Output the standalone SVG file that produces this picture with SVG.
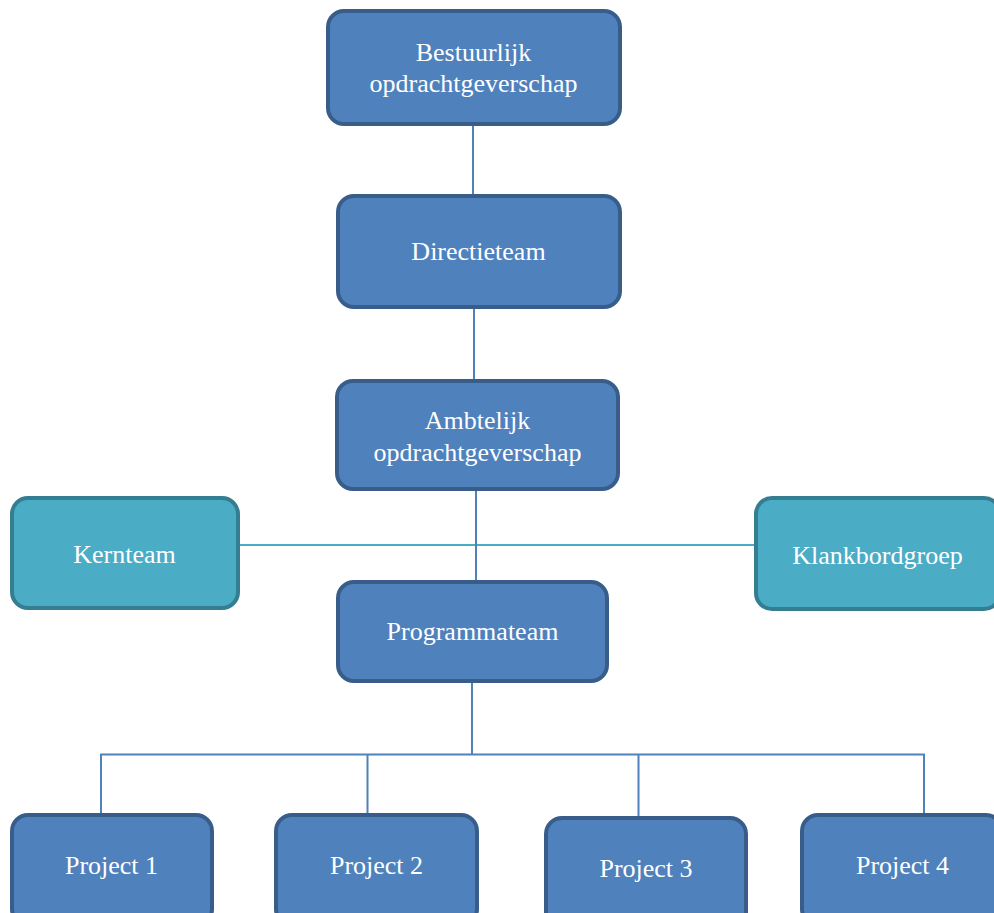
<svg xmlns="http://www.w3.org/2000/svg" width="994" height="913" viewBox="0 0 994 913">
<style>
.b{fill:#4f81bd;stroke:#385d8a;stroke-width:4}
.t{fill:#4bacc6;stroke:#357d91;stroke-width:4}
text{font-family:"Liberation Serif","Times New Roman",serif;font-size:26px;fill:#ffffff;text-anchor:middle}
.c{stroke:#4f81bd;stroke-width:2;fill:none}
.ct{stroke:#4bacc6;stroke-width:2;fill:none}
</style>
<rect width="994" height="913" fill="#ffffff"/>
<g id="connectors">
<line class="c" x1="473" y1="124" x2="473" y2="196"/>
<line class="c" x1="474" y1="307" x2="474" y2="381"/>
<line class="ct" x1="238" y1="545" x2="756" y2="545"/>
<line class="c" x1="476" y1="490" x2="476" y2="582"/>
<line class="c" x1="472" y1="683" x2="472" y2="754"/>
<polyline class="c" points="101,814 101,754.5 924,754.5 924,813"/>
<line class="c" x1="367.5" y1="754" x2="367.5" y2="814"/>
<line class="c" x1="638.5" y1="754" x2="638.5" y2="817"/>
</g>
<g id="bestuurlijk"><rect class="b" x="328" y="11" width="292" height="113" rx="16"/><text x="473.5" y="61">Bestuurlijk</text><text x="473.5" y="92">opdrachtgeverschap</text></g>
<g id="directieteam"><rect class="b" x="338" y="196" width="282" height="111" rx="16"/><text x="478.5" y="260">Directieteam</text></g>
<g id="ambtelijk"><rect class="b" x="337" y="381" width="281" height="108" rx="16"/><text x="477.5" y="429">Ambtelijk</text><text x="477.5" y="461">opdrachtgeverschap</text></g>
<g id="kernteam"><rect class="t" x="12" y="498" width="226" height="110" rx="16"/><text x="124.5" y="563">Kernteam</text></g>
<g id="klankbordgroep"><rect class="t" x="756" y="498" width="244" height="111" rx="16"/><text x="877.5" y="564">Klankbordgroep</text></g>
<g id="programmateam"><rect class="b" x="338" y="582" width="269" height="99" rx="16"/><text x="472.5" y="640">Programmateam</text></g>
<g id="project1"><rect class="b" x="12" y="815" width="200" height="110" rx="16"/><text x="111.5" y="874">Project 1</text></g>
<g id="project2"><rect class="b" x="276" y="815" width="201" height="110" rx="16"/><text x="376.5" y="874">Project 2</text></g>
<g id="project3"><rect class="b" x="546" y="818" width="200" height="110" rx="16"/><text x="646" y="877">Project 3</text></g>
<g id="project4"><rect class="b" x="802" y="815" width="200" height="110" rx="16"/><text x="902.5" y="874">Project 4</text></g>
</svg>
